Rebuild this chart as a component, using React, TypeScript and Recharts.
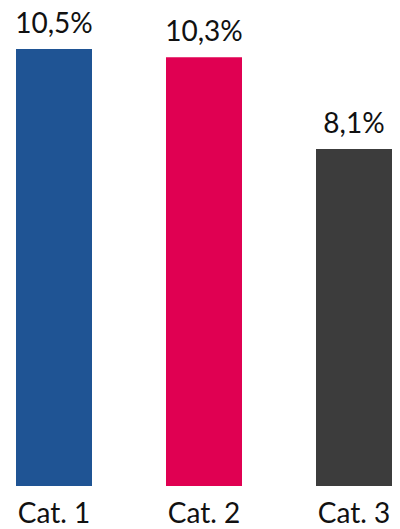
import { BarChart, Bar, XAxis, YAxis, Cell, LabelList } from 'recharts'

const categories = ['Cat. 1', 'Cat. 2', 'Cat. 3']
const values = [10.5, 10.3, 8.1]
const colors = ['#1F5494', '#E00052', '#3C3C3C']

const data = categories.map((name, i) => ({ name, value: values[i] }))

const fmt = (v: number) => v.toFixed(1).replace('.', ',') + '%'

const textStyle = { fill: '#111', fontSize: 28, fontFamily: 'Lato', fontWeight: 400 }

export default function App() {
  return (
    <div style={{ position: 'absolute', left: 0, top: 0, width: 400, height: 529, overflow: 'hidden', background: '#fff' }}>
      <div style={{ marginLeft: -21 }}>
        <BarChart
          width={450}
          height={529}
          data={data}
          margin={{ top: 49, right: 0, bottom: 0, left: 0 }}
          barCategoryGap={0}
        >
          <YAxis hide domain={[0, 10.5]} />
          <XAxis
            dataKey="name"
            axisLine={false}
            tickLine={false}
            tickSize={0}
            tickMargin={17}
            height={43}
            interval={0}
            tick={textStyle}
          />
          <Bar dataKey="value" barSize={76} isAnimationActive={false}>
            {data.map((d, i) => (
              <Cell key={d.name} fill={colors[i]} />
            ))}
            <LabelList
              dataKey="value"
              position="top"
              offset={16}
              formatter={(v: number) => fmt(v)}
              style={textStyle}
            />
          </Bar>
        </BarChart>
      </div>
    </div>
  )
}
